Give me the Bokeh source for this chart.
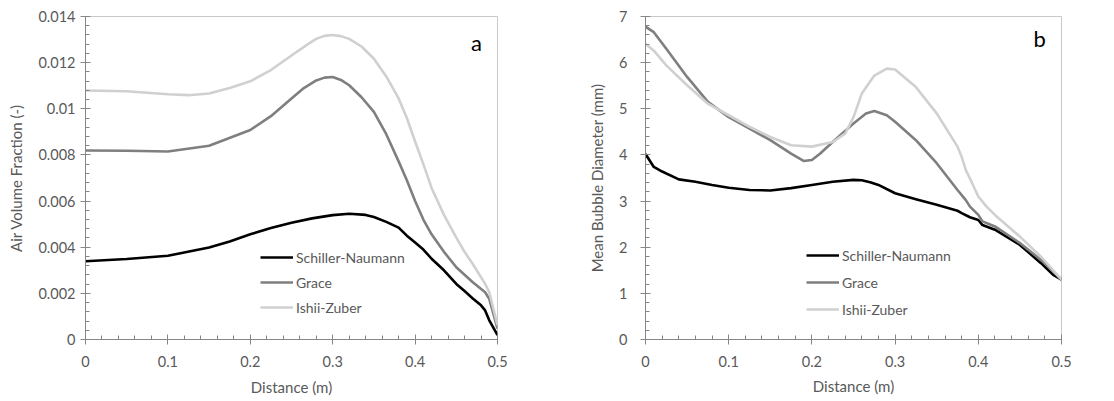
from bokeh.plotting import figure
from bokeh.layouts import row
from bokeh.models import Range1d, FixedTicker, Legend, LegendItem, Label
from bokeh.embed import file_html
from bokeh.resources import INLINE

# ---------- data: panel a (air volume fraction) ----------
xa_sn = [0, 0.05, 0.1, 0.15, 0.175, 0.2, 0.225, 0.25, 0.275, 0.3, 0.32, 0.34, 0.35, 0.365, 0.38, 0.39, 0.4,
         0.41, 0.42, 0.435, 0.45, 0.46, 0.47, 0.48, 0.485, 0.49, 0.5]
ya_sn = [0.00339, 0.00349, 0.00363, 0.00399, 0.00425, 0.00456, 0.00483, 0.00506, 0.00525, 0.00539, 0.00545,
         0.0054, 0.00531, 0.0051, 0.00485, 0.0045, 0.0042, 0.0039, 0.0035, 0.0030, 0.00241, 0.0021, 0.00178,
         0.00148, 0.00126, 0.00083, 0.00019]
xa_gr = [0, 0.05, 0.1, 0.15, 0.2, 0.225, 0.25, 0.265, 0.28, 0.29, 0.3, 0.31, 0.32, 0.335, 0.35, 0.365, 0.38,
         0.39, 0.4, 0.41, 0.42, 0.435, 0.45, 0.47, 0.485, 0.49, 0.5]
ya_gr = [0.00819, 0.00818, 0.00815, 0.0084, 0.00908, 0.00968, 0.01045, 0.0109, 0.01123, 0.01135, 0.01138,
         0.01125, 0.01102, 0.0105, 0.00987, 0.0089, 0.00772, 0.0069, 0.006, 0.0052, 0.00456, 0.0038, 0.00313,
         0.00248, 0.00205, 0.00176, 0.00047]
xa_iz = [0, 0.05, 0.1, 0.125, 0.15, 0.175, 0.2, 0.225, 0.25, 0.27, 0.28, 0.29, 0.3, 0.31, 0.32, 0.335, 0.35,
         0.365, 0.38, 0.39, 0.4, 0.41, 0.42, 0.435, 0.45, 0.46, 0.47, 0.485, 0.49, 0.5]
ya_iz = [0.01079, 0.01076, 0.01063, 0.01059, 0.01066, 0.0109, 0.01119, 0.01168, 0.01231, 0.0128, 0.01303,
         0.01316, 0.0132, 0.01315, 0.01303, 0.0127, 0.01217, 0.0114, 0.01045, 0.0096, 0.00858, 0.0076, 0.00657,
         0.0054, 0.00442, 0.0038, 0.00327, 0.00241, 0.00205, 0.00062]

# ---------- data: panel b (mean bubble diameter) ----------
xb_sn = [0, 0.01, 0.02, 0.04, 0.06, 0.08, 0.1, 0.125, 0.15, 0.175, 0.2, 0.225, 0.25, 0.26, 0.27, 0.28, 0.3,
         0.325, 0.35, 0.375, 0.38, 0.39, 0.4, 0.405, 0.42, 0.45, 0.475, 0.49, 0.5]
yb_sn = [4.02, 3.74, 3.64, 3.47, 3.42, 3.35, 3.29, 3.24, 3.23, 3.28, 3.35, 3.42, 3.46, 3.45, 3.41, 3.35, 3.17,
         3.04, 2.92, 2.79, 2.74, 2.65, 2.59, 2.48, 2.38, 2.05, 1.66, 1.40, 1.30]
xb_gr = [0, 0.01, 0.025, 0.05, 0.075, 0.1, 0.125, 0.15, 0.175, 0.19, 0.2, 0.21, 0.225, 0.25, 0.265, 0.275,
         0.29, 0.3, 0.325, 0.35, 0.375, 0.385, 0.39, 0.4, 0.405, 0.42, 0.45, 0.475, 0.5]
yb_gr = [6.78, 6.66, 6.30, 5.69, 5.15, 4.82, 4.57, 4.32, 4.03, 3.87, 3.89, 4.03, 4.28, 4.68, 4.90, 4.95,
         4.86, 4.72, 4.32, 3.82, 3.24, 3.02, 2.88, 2.70, 2.56, 2.45, 2.09, 1.73, 1.30]
xb_iz = [0, 0.01, 0.025, 0.05, 0.075, 0.1, 0.125, 0.15, 0.175, 0.2, 0.225, 0.24, 0.25, 0.26, 0.275, 0.29,
         0.3, 0.325, 0.35, 0.375, 0.38, 0.385, 0.39, 0.4, 0.41, 0.42, 0.45, 0.475, 0.5]
yb_iz = [6.41, 6.26, 5.94, 5.51, 5.11, 4.86, 4.61, 4.39, 4.21, 4.18, 4.28, 4.46, 4.82, 5.33, 5.72, 5.87,
         5.85, 5.47, 4.90, 4.18, 3.96, 3.67, 3.49, 3.10, 2.88, 2.70, 2.23, 1.80, 1.30]

series_names = ["Schiller-Naumann", "Grace", "Ishii-Zuber"]
series_colors = ["#000000", "#7f7f7f", "#d0d0d0"]

x_ticks = [0, 0.1, 0.2, 0.3, 0.4, 0.5]
x_tick_labels = ["0", "0.1", "0.2", "0.3", "0.4", "0.5"]
x_minor = [i * 0.02 for i in range(26)]

ya_ticks = [0, 0.002, 0.004, 0.006, 0.008, 0.01, 0.012, 0.014]
ya_tick_labels = ["0", "0.002", "0.004", "0.006", "0.008", "0.01", "0.012", "0.014"]
ya_minor = [i * 0.0004 for i in range(36)]

yb_ticks = [0, 1, 2, 3, 4, 5, 6, 7]
yb_tick_labels = ["0", "1", "2", "3", "4", "5", "6", "7"]
yb_minor = [i * 0.2 for i in range(36)]

FONT = "Lato"
TXT = "#595959"
AX = "#868686"


def make_panel(width, height, bl, br, bt, bb, yr, yticks, ylabels, yminor, ytitle,
               data, letter, letter_xy, leg_loc, leg_spacing, ylab_standoff, xtitle_standoff):
    p = figure(width=width, height=height, output_backend="svg", toolbar_location=None,
               x_range=Range1d(0, 0.5), y_range=Range1d(0, yr),
               min_border_left=bl, min_border_right=br, min_border_top=bt, min_border_bottom=bb)
    p.xgrid.visible = False
    p.ygrid.visible = False
    p.outline_line_color = "#c8c8c8"
    p.outline_line_width = 1

    for ax, ticks, labels, minor in ((p.xaxis[0], x_ticks, x_tick_labels, x_minor),
                                     (p.yaxis[0], yticks, ylabels, yminor)):
        ax.ticker = FixedTicker(ticks=ticks, minor_ticks=minor)
        ax.major_label_overrides = {t: l for t, l in zip(ticks, labels)}
        ax.axis_line_color = AX
        ax.major_tick_line_color = AX
        ax.minor_tick_line_color = AX
        ax.major_tick_in = 5
        ax.major_tick_out = 5
        ax.minor_tick_in = 4
        ax.minor_tick_out = 0
        ax.major_label_text_font = FONT
        ax.major_label_text_font_size = "14.5px"
        ax.major_label_text_color = TXT
        ax.axis_label_text_font = FONT
        ax.axis_label_text_font_size = "15px"
        ax.axis_label_text_color = TXT
        ax.axis_label_text_font_style = "normal"

    p.xaxis.axis_label = "Distance (m)"
    p.xaxis.major_label_standoff = 11
    p.xaxis.axis_label_standoff = xtitle_standoff
    p.yaxis.axis_label = ytitle
    p.yaxis.major_label_standoff = ylab_standoff
    p.yaxis.axis_label_standoff = 10

    items = []
    for (xs, ys), name, col in zip(data, series_names, series_colors):
        r = p.line(xs, ys, line_color=col, line_width=2.6, line_join="round")
        items.append(LegendItem(label=name, renderers=[r]))

    leg = Legend(items=items, location=leg_loc, padding=0, margin=0, spacing=leg_spacing,
                 glyph_width=33, glyph_height=20, label_height=20, label_standoff=3,
                 border_line_alpha=0, background_fill_alpha=0,
                 label_text_font=FONT, label_text_font_size="14px", label_text_color=TXT)
    p.add_layout(leg)

    p.add_layout(Label(x=letter_xy[0], y=letter_xy[1], text=letter, text_align="center",
                       text_baseline="middle", text_font=FONT, text_font_size="22px",
                       text_color="#000000"))
    return p


pa = make_panel(554, 400, 85, 57, 14, 61, 0.014, ya_ticks, ya_tick_labels, ya_minor,
                "Air Volume Fraction (-)",
                [(xa_sn, ya_sn), (xa_gr, ya_gr), (xa_iz, ya_iz)],
                "a", (0.4745, 0.01288), (175, 22), 5, 5, 8)
pb = make_panel(560, 400, 91, 53, 16, 60, 7, yb_ticks, yb_tick_labels, yb_minor,
                "Mean Bubble Diameter (mm)",
                [(xb_sn, yb_sn), (xb_gr, yb_gr), (xb_iz, yb_iz)],
                "b", (0.4736, 6.52), (161, 20), 7, 13, 7)

layout = row(pa, pb)
open("out.html", "w").write(file_html(layout, INLINE))
